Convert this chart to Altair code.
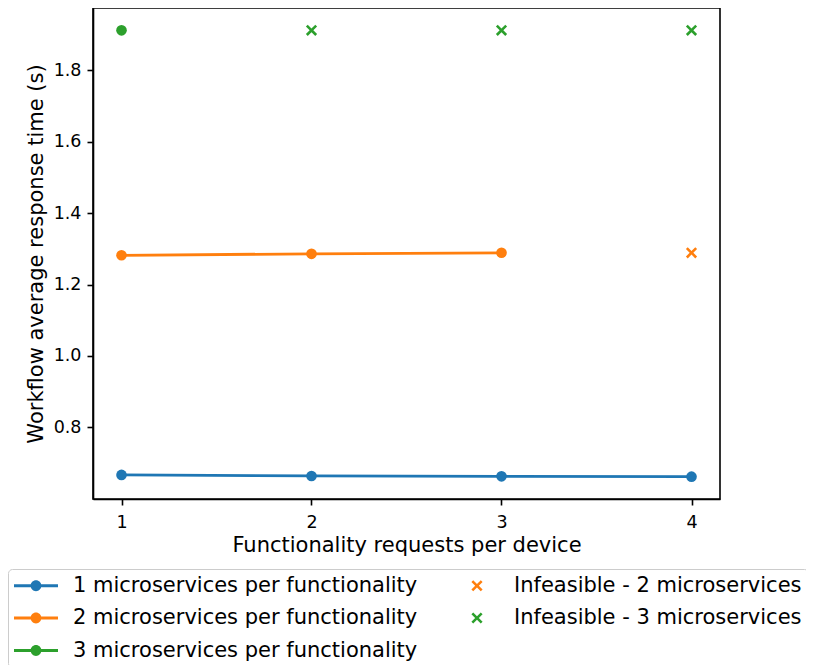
import altair as alt
import pandas as pd

# ---- data ----
series_labels = [
    "1 microservices per functionality",
    "2 microservices per functionality",
    "3 microservices per functionality",
]
infeasible_labels = ["Infeasible - 2 microservices", "Infeasible - 3 microservices"]

ms1_requests = [1, 2, 3, 4]
ms1_times = [0.667, 0.664, 0.663, 0.662]
ms2_requests = [1, 2, 3]
ms2_times = [1.282, 1.286, 1.289]
ms3_requests = [1]
ms3_times = [1.912]
inf2_requests = [4]
inf2_times = [1.289]
inf3_requests = [2, 3, 4]
inf3_times = [1.912, 1.912, 1.912]

x_ticks = [1, 2, 3, 4]
y_ticks = [0.8, 1.0, 1.2, 1.4, 1.6, 1.8]

# ---- tables ----
rows = []
for lab, xs, ys in zip(series_labels,
                       [ms1_requests, ms2_requests, ms3_requests],
                       [ms1_times, ms2_times, ms3_times]):
    for xv, yv in zip(xs, ys):
        rows.append({"requests": xv, "time": yv, "series": lab})
df_series = pd.DataFrame(rows)

rows = []
for lab, xs, ys in zip(infeasible_labels,
                       [inf2_requests, inf3_requests],
                       [inf2_times, inf3_times]):
    for xv, yv in zip(xs, ys):
        rows.append({"requests": xv, "time": yv, "series": lab})
df_inf = pd.DataFrame(rows)

BLUE, ORANGE, GREEN = "#1f77b4", "#ff7f0e", "#2ca02c"
legend_order = series_labels + infeasible_labels
legend_colors = [BLUE, ORANGE, GREEN, ORANGE, GREEN]

# symbol unit = 10.5 px (symbol size 441)
LINE_DOT = ("M-2.095,-0.133H-0.42V0.133H-2.095Z M0.42,-0.133H2.095V0.133H0.42Z "
            "M-0.514,0A0.514,0.514 0 1,1 0.514,0A0.514,0.514 0 1,1 -0.514,0Z")
XMARK = ("M-0.358,-0.533L0,-0.175L0.358,-0.533L0.533,-0.358L0.175,0L0.533,0.358"
         "L0.358,0.533L0,0.175L-0.358,0.533L-0.533,0.358L-0.175,0L-0.533,-0.358Z")
legend_shapes = [LINE_DOT, LINE_DOT, LINE_DOT, XMARK, XMARK]

x_enc = alt.X("requests:Q",
              scale=alt.Scale(domain=[0.85, 4.15], nice=False, zero=False),
              axis=alt.Axis(values=x_ticks, format="d",
                            title="Functionality requests per device",
                            labelPadding=8, titlePadding=4))
y_enc = alt.Y("time:Q",
              scale=alt.Scale(domain=[0.5995, 1.9745], nice=False, zero=False),
              axis=alt.Axis(values=y_ticks, format=".1f",
                            title="Workflow average response time (s)",
                            labelPadding=6, titlePadding=7))

color_scale = alt.Scale(domain=legend_order, range=legend_colors)

legend_def = alt.Legend(
    title=None, orient="none", legendX=-85, legendY=561,
    direction="vertical",
    columns=2, columnPadding=37, rowPadding=10.5,
    symbolSize=441, symbolStrokeWidth=0, symbolOffset=11.5,
    labelFont="DejaVu Sans", labelFontSize=21, labelColor="black",
    labelOffset=26.5, labelLimit=1000,
    padding=6, strokeColor="#cccccc", fillColor="white", cornerRadius=4,
)

infeasible = alt.Chart(df_inf).mark_point(
    filled=True, opacity=1, size=441, strokeWidth=0
).encode(
    x=x_enc, y=y_enc,
    color=alt.Color("series:N", scale=color_scale, legend=legend_def),
    shape=alt.Shape("series:N",
                    scale=alt.Scale(domain=legend_order, range=legend_shapes),
                    legend=legend_def),
)

lines = alt.Chart(df_series).mark_line(strokeWidth=2.8).encode(
    x=x_enc, y=y_enc,
    color=alt.Color("series:N", scale=color_scale, legend=None),
)

points = alt.Chart(df_series).mark_circle(size=113, opacity=1).encode(
    x=x_enc, y=y_enc,
    color=alt.Color("series:N", scale=color_scale, legend=None),
)

chart = alt.layer(infeasible, lines, points).resolve_scale(
    color="independent", shape="independent"
).properties(
    width=627, height=491,
    autosize=alt.AutoSizeParams(type="none"),
    padding={"left": 85, "top": 0, "right": 86, "bottom": 166},
).configure_view(
    stroke="black", strokeWidth=1.6
).configure_axis(
    grid=False,
    labelFont="DejaVu Sans", labelFontSize=17.5, labelColor="black",
    titleFont="DejaVu Sans", titleFontSize=21, titleFontWeight="normal",
    titleColor="black",
    domainColor="black", domainWidth=1.6,
    tickColor="black", tickWidth=1.6, tickSize=6,
)

chart.save("out.html", embed_options={"renderer": "svg", "actions": False})
